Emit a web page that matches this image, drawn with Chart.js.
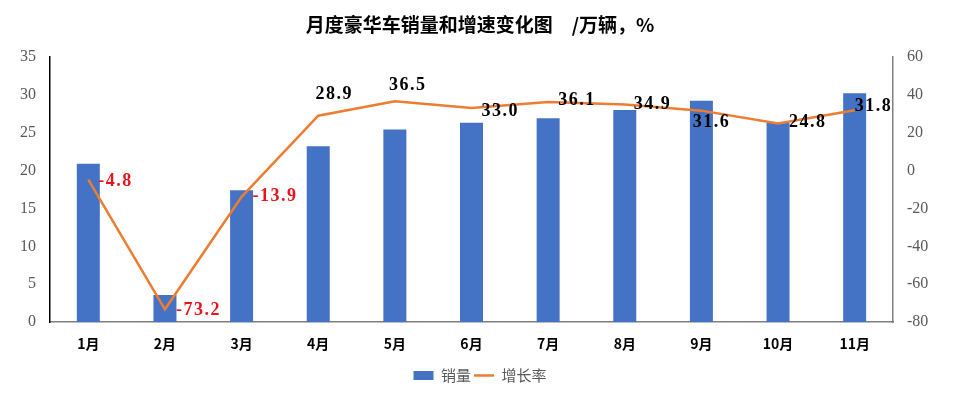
<!DOCTYPE html>
<html>
<head>
<meta charset="utf-8">
<script src="https://cdn.jsdelivr.net/npm/chart.js@4.4.1/dist/chart.umd.min.js"></script>
<style>
  html, body { margin: 0; padding: 0; background: #fff; }
  #wrap { width: 960px; height: 393px; position: relative; }
</style>
</head>
<body>
<div id="wrap"><canvas id="salesChart"></canvas></div>
<script>
// Monthly luxury car sales (万辆) and growth rate (%)
const MONTHS = ['1月','2月','3月','4月','5月','6月','7月','8月','9月','10月','11月'];
const SALES = [20.9, 3.6, 17.4, 23.2, 25.4, 26.3, 26.9, 28.0, 29.2, 26.3, 30.2];
const GROWTH = [-4.8, -73.2, -13.9, 28.9, 36.5, 33.0, 36.1, 34.9, 31.6, 24.8, 31.8];

// label placement relative to each line point [dx, dy, textAlign]
const LABEL_POS = [
  [10, 2, 'left'], [11, 1, 'left'], [11, -1, 'left'], [16, -21, 'center'],
  [13, -16, 'center'], [10, 3, 'left'], [10, -2, 'left'], [9, 0, 'left'],
  [10, 12, 'center'], [11, -1, 'left'], [0, -4, 'left']
];

const growthLabels = {
  id: 'growthLabels',
  afterDatasetsDraw(chart) {
    const meta = chart.getDatasetMeta(1);
    const c = chart.ctx;
    c.save();
    c.font = 'bold 18px "Liberation Serif", "DejaVu Serif", serif';
    c.letterSpacing = '1.5px';
    c.textBaseline = 'middle';
    meta.data.forEach((pt, i) => {
      const v = GROWTH[i];
      const [dx, dy, align] = LABEL_POS[i];
      c.fillStyle = v < 0 ? '#e8141c' : '#000000';
      c.textAlign = align;
      c.fillText(v.toFixed(1), pt.x + dx, pt.y + dy);
    });
    c.restore();
  }
};

const ctx = document.getElementById('salesChart');
new Chart(ctx, {
  data: {
    labels: MONTHS,
    datasets: [
      {
        type: 'bar',
        label: '销量',
        data: SALES,
        yAxisID: 'y',
        backgroundColor: '#4472c4',
        borderWidth: 0,
        barPercentage: 0.3,
        categoryPercentage: 1,
        order: 2
      },
      {
        type: 'line',
        label: '增长率',
        data: GROWTH,
        yAxisID: 'y1',
        borderColor: '#ed7d31',
        backgroundColor: '#ed7d31',
        borderWidth: 2.5,
        pointRadius: 0,
        tension: 0,
        order: 1
      }
    ]
  },
  options: {
    responsive: true,
    maintainAspectRatio: false,
    animation: false,
    layout: { padding: { left: 0, right: 0, top: 0, bottom: 0 } },
    plugins: {
      title: {
        display: true,
        text: '月度豪华车销量和增速变化图　/万辆，%',
        color: '#000',
        font: { family: '"Noto Sans CJK SC", sans-serif', size: 19, weight: 'bold' },
        padding: { top: 13, bottom: 21 }
      },
      legend: {
        position: 'bottom',
        labels: {
          usePointStyle: true,
          pointStyleWidth: 20,
          boxHeight: 9,
          padding: 3,
          color: '#595959',
          font: { family: '"Noto Sans CJK SC", sans-serif', size: 15 },
          generateLabels(chart) {
            return chart.data.datasets.map((ds, i) => ({
              text: ds.label,
              fillStyle: ds.backgroundColor,
              strokeStyle: ds.type === 'line' ? ds.borderColor : ds.backgroundColor,
              lineWidth: ds.type === 'line' ? 2.5 : 0,
              pointStyle: ds.type === 'line' ? 'line' : 'rect',
              fontColor: '#595959',
              datasetIndex: i
            }));
          }
        }
      },
      tooltip: { enabled: false }
    },
    scales: {
      x: {
        grid: { display: false, drawTicks: false },
        border: { display: true, color: '#7f7f7f', width: 1.5 },
        ticks: {
          color: '#000',
          padding: 13,
          font: { family: '"Noto Sans CJK SC", sans-serif', size: 14, weight: 'bold' }
        }
      },
      y: {
        position: 'left',
        min: 0,
        max: 35,
        grid: { display: false, drawTicks: false },
        border: { display: true, color: '#000', width: 1.5 },
        ticks: {
          stepSize: 5,
          color: '#595959',
          padding: 14,
          font: { family: '"Liberation Serif", serif', size: 16 }
        },
        afterFit(scale) { scale.width = 50; }
      },
      y1: {
        position: 'right',
        min: -80,
        max: 60,
        grid: { display: false, drawTicks: false },
        border: { display: true, color: '#7f7f7f', width: 1.5 },
        ticks: {
          stepSize: 20,
          color: '#595959',
          padding: 14,
          font: { family: '"Liberation Serif", serif', size: 16 }
        },
        afterFit(scale) { scale.width = 67; }
      }
    }
  },
  plugins: [growthLabels]
});
</script>
</body>
</html>
